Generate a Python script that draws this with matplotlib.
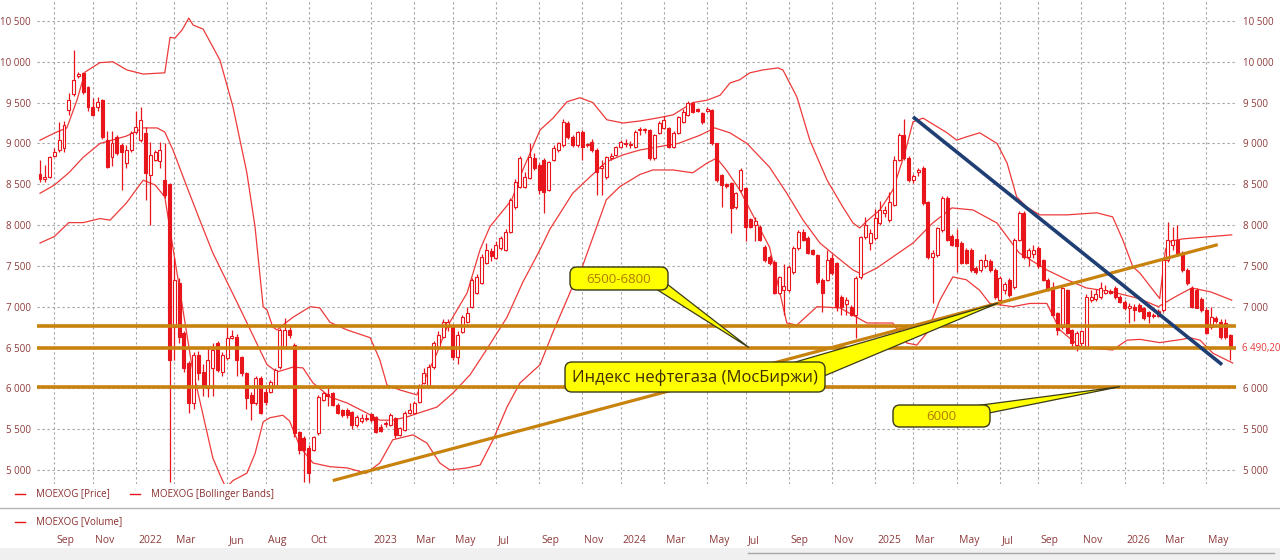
import numpy as np
import pandas as pd
import matplotlib
matplotlib.use("Agg")
import matplotlib.pyplot as plt
from matplotlib.patches import FancyBboxPatch, Polygon, Rectangle
from matplotlib.lines import Line2D
from matplotlib.transforms import IdentityTransform, ScaledTranslation

plt.rcParams['font.family'] = ['Open Sans', 'DejaVu Sans']

# ---------------- data (weekly candles, MOEXOG) ----------------
opens = [8620, 8560, 8590, 8850, 8920, 8950, 9410, 9600, 9830, 9860, 9690, 9450, 9450, 9530, 9040, 8830, 9080, 8980, 8760, 8920,
         9140, 9040, 9130, 8610, 8800, 8780, 8550, 8500, 6750, 7290, 6680, 6310, 5820, 6410, 6200, 6000, 6250, 6560, 6200, 6370,
         6620, 6630, 6380, 6190, 5920, 5820, 6130, 5960, 5960, 6020, 6260, 6510, 6720, 6530, 5470, 5390, 5270, 5245, 5450, 5860,
         5930, 5940, 5800, 5735, 5735, 5710, 5550, 5600, 5640, 5680, 5650, 5530, 5560, 5550, 5640, 5430, 5490, 5700, 5700, 5830,
         6070, 6020, 6260, 6510, 6630, 6750, 6750, 6380, 6690, 6810, 7000, 7170, 7290, 7535, 7680, 7600, 7720, 7700, 7920, 8220,
         8470, 8470, 8580, 8820, 8740, 8800, 8430, 8800, 8920, 8980, 9250, 9080, 8980, 9140, 8980, 9020, 8920, 8700, 8590, 8820,
         8860, 8960, 8990, 8980, 8960, 9160, 9160, 9165, 8820, 9130, 9190, 9190, 8960, 9130, 9260, 9350, 9500, 9420, 9370, 9400,
         9410, 9000, 8610, 8500, 8515, 8220, 8430, 8450, 8070, 8000, 7980, 7730, 7610, 7550, 7170, 7200, 7200, 7425, 7720, 7920,
         7840, 7690, 7630, 7330, 7330, 7600, 7535, 7120, 7030, 7000, 6900, 7360, 7850, 7780, 7840, 8020, 8150, 8060, 8250, 8800,
         9100, 8820, 8550, 8650, 8700, 8280, 7610, 7630, 7940, 8330, 7870, 7830, 7780, 7700, 7700, 7480, 7450, 7500, 7560, 7450,
         7080, 7200, 7330, 7240, 7820, 8150, 7610, 7650, 7720, 7570, 7330, 7240, 6920, 6750, 7200, 6715, 6530, 6560, 6510, 7080,
         7090, 7120, 7170, 7190, 7230, 7120, 7060, 6980, 7000, 7020, 6985, 6930, 6900, 6950, 6960, 7570, 7750, 7820, 7660, 7450,
         7230, 7210, 7100, 6960, 6750, 6860, 6810, 6800, 6650]
highs = [8800, 8730, 8850, 8950, 9260, 9280, 9620, 10150, 9870, 9880, 9700, 9560, 9570, 9550, 9150, 9150, 9100, 9010, 8980, 9150,
         9400, 9450, 9200, 9020, 8920, 9020, 9000, 8520, 7600, 7350, 6700, 6330, 6450, 6460, 6300, 6500, 6550, 6580, 6450, 6760,
         6720, 6660, 6400, 6200, 5960, 6150, 6150, 6000, 6100, 6250, 6740, 6860, 6760, 6550, 5480, 5420, 5300, 5420, 5920, 5960,
         6020, 5960, 5820, 5750, 5760, 5720, 5670, 5690, 5680, 5700, 5660, 5560, 5600, 5700, 5650, 5530, 5720, 5820, 5850, 6050,
         6250, 6300, 6580, 6700, 6850, 6850, 6780, 6700, 6900, 7000, 7350, 7400, 7650, 7780, 7720, 7800, 7860, 7950, 8330, 8560,
         8850, 8650, 9000, 8880, 8760, 8820, 8790, 8980, 9020, 9300, 9270, 9100, 9150, 9160, 9010, 9050, 8940, 8800, 8850, 8880,
         8970, 9040, 9050, 9030, 9160, 9200, 9190, 9180, 9120, 9280, 9330, 9200, 9150, 9340, 9420, 9520, 9510, 9440, 9380, 9450,
         9420, 9010, 8630, 8520, 8530, 8400, 8700, 8470, 8090, 8100, 8000, 7750, 7630, 7570, 7380, 7520, 7510, 7740, 7940, 7950,
         7860, 7710, 7650, 7350, 7700, 7650, 7550, 7140, 7120, 7020, 7380, 7870, 8100, 7950, 8200, 8300, 8230, 8400, 8850, 9130,
         9300, 8840, 8620, 8700, 8720, 8300, 7700, 7980, 8350, 8350, 7890, 7950, 7800, 7720, 7720, 7500, 7580, 7650, 7580, 7470,
         7370, 7300, 7350, 7840, 8170, 8170, 7720, 7750, 7740, 7590, 7350, 7300, 6940, 7250, 7220, 6730, 6700, 6720, 7150, 7200,
         7220, 7300, 7260, 7220, 7250, 7140, 7080, 7040, 7030, 7050, 7000, 6950, 6920, 6970, 7600, 8040, 7980, 8000, 7680, 7470,
         7250, 7230, 7120, 7000, 7000, 6880, 6850, 6850, 6670]
lows = [8530, 8530, 8580, 8830, 8900, 8900, 9350, 9580, 9800, 9600, 9400, 9330, 9400, 9060, 8700, 8720, 8860, 8430, 8700, 8900,
        9120, 9020, 8310, 8000, 8780, 8700, 8330, 4850, 6350, 6550, 6200, 5700, 5750, 6100, 5900, 5890, 5900, 6200, 6150, 6350,
        6600, 6150, 6150, 5750, 5610, 5800, 5680, 5800, 5940, 6000, 6240, 6500, 6620, 5400, 5200, 4850, 4850, 5230, 5430, 5850,
        5780, 5780, 5680, 5650, 5640, 5500, 5530, 5580, 5600, 5590, 5450, 5460, 5530, 5540, 5390, 5410, 5480, 5690, 5690, 5820,
        6050, 6000, 6240, 6500, 6620, 6700, 6350, 6300, 6680, 6800, 6990, 7150, 7280, 7520, 7560, 7580, 7700, 7680, 7900, 8200,
        8450, 8450, 8560, 8680, 8380, 8150, 8420, 8780, 8900, 8960, 9060, 8960, 8960, 8800, 8960, 8900, 8370, 8370, 8570, 8800,
        8840, 8940, 8960, 8950, 8950, 9100, 9130, 8800, 8800, 9120, 9180, 8940, 8940, 9120, 9250, 9340, 9370, 9380, 9240, 9390,
        8980, 8530, 8220, 8450, 7900, 8200, 8410, 7800, 7960, 7800, 7800, 7550, 7510, 7150, 7150, 6900, 7180, 7400, 7700, 7800,
        7640, 7630, 7280, 6940, 7310, 7390, 6950, 6900, 6900, 6880, 6620, 7340, 7830, 7700, 7820, 8000, 8100, 8040, 8230, 8780,
        8800, 8530, 8520, 8600, 8250, 7590, 7040, 7610, 7920, 7800, 7740, 7420, 7520, 7520, 7430, 7400, 7430, 7480, 7430, 7100,
        7020, 7150, 7120, 7220, 7800, 7590, 7500, 7600, 7480, 7310, 7190, 6880, 6650, 6730, 6660, 6500, 6460, 6520, 6500, 7060,
        7070, 7100, 7150, 7150, 7100, 7040, 6960, 6800, 6830, 6930, 6840, 6800, 6860, 6870, 6940, 7550, 7700, 7640, 7430, 7270,
        6980, 6980, 6940, 6660, 6730, 6800, 6610, 6610, 6350]
closes = [8560, 8590, 8830, 8900, 9040, 9225, 9530, 9780, 9850, 9630, 9450, 9350, 9510, 9080, 8710, 9000, 8880, 8900, 8920, 9130,
          9200, 9290, 8640, 8860, 8900, 8920, 8370, 6350, 7330, 6630, 6250, 5820, 6410, 6190, 6040, 6350, 6470, 6230, 6410, 6620,
          6640, 6350, 6190, 5880, 5820, 6130, 5700, 5830, 6080, 6230, 6720, 6720, 6650, 5450, 5245, 5245, 4960, 5400, 5890, 5940,
          5900, 5800, 5700, 5670, 5670, 5550, 5650, 5640, 5620, 5610, 5470, 5480, 5570, 5670, 5430, 5510, 5700, 5735, 5820, 6020,
          6190, 6260, 6560, 6650, 6810, 6810, 6380, 6650, 6870, 6920, 7330, 7360, 7610, 7700, 7620, 7760, 7840, 7920, 8310, 8530,
          8820, 8590, 8830, 8700, 8430, 8400, 8770, 8950, 9000, 9260, 9080, 8980, 9140, 8960, 8990, 8920, 8650, 8720, 8830, 8840,
          8955, 9020, 9000, 8990, 9140, 9165, 9165, 8820, 9100, 9250, 9290, 8960, 9130, 9320, 9390, 9500, 9380, 9400, 9260, 9420,
          9000, 8550, 8490, 8480, 8210, 8390, 8675, 7980, 7980, 8050, 7820, 7570, 7530, 7170, 7360, 7250, 7490, 7720, 7920, 7820,
          7660, 7650, 7300, 7170, 7570, 7410, 7000, 7000, 7080, 6900, 7350, 7850, 8000, 7900, 8090, 8190, 8190, 8280, 8800, 9100,
          8820, 8550, 8600, 8680, 8270, 7610, 7660, 7960, 8330, 7820, 7760, 7740, 7540, 7540, 7450, 7420, 7570, 7570, 7450, 7120,
          7350, 7280, 7140, 7820, 8150, 7610, 7700, 7700, 7500, 7330, 7210, 6900, 6710, 7230, 6680, 6560, 6680, 6700, 7120, 7120,
          7150, 7230, 7210, 7170, 7120, 7060, 6980, 7010, 6960, 6950, 6860, 6880, 6880, 6890, 7570, 7820, 7820, 7660, 7450, 7290,
          7000, 6990, 6960, 6680, 6870, 6820, 6630, 6630, 6490.2]

first_week = "2021-08-16"
closed_weeks = ["2022-02-28", "2022-03-07", "2022-03-14"]   # exchange closed
tick_months = ["2021-09", "2021-11", "2022-01", "2022-03", "2022-06", "2022-08", "2022-10",
               "2023-01", "2023-03", "2023-05", "2023-07", "2023-09", "2023-11",
               "2024-01", "2024-03", "2024-05", "2024-07", "2024-09", "2024-11",
               "2025-01", "2025-03", "2025-05", "2025-07", "2025-09", "2025-11",
               "2026-01", "2026-03", "2026-05"]
month_abbr = ["Jan", "Feb", "Mar", "Apr", "May", "Jun", "Jul", "Aug", "Sep", "Oct", "Nov", "Dec"]
price_ticks = [5000, 5500, 6000, 6500, 7000, 7500, 8000, 8500, 9000, 9500, 10000, 10500]

# Bollinger bands (bar index, value)
bb_up_idx = [0, 3.1, 5.6, 7.7, 9.4, 12.5, 15.2, 18.1, 21.5, 26, 27.1, 28.1, 29.6, 31, 31.9, 34, 37.5, 40.2, 43.1, 44.8,
             46.5, 47.3, 48.5, 49.4, 50.6, 52.7, 56.3, 58.3, 60.4, 64, 68.8, 70.8, 72.3, 75, 78.5, 79.8, 82.7, 84.8, 89, 91.7,
             93.75, 98.3, 100.6, 104.2, 106.9, 109.8, 112.5, 115.2, 118.1, 121.5, 125, 128.5, 131.9, 136, 139, 141.7, 143.75,
             145.8, 147.9, 150.6, 153.75, 154.8, 157.7, 160.4, 164, 167.3, 169.4, 170.8, 172.5, 175, 177.7, 180.2, 181.9, 184,
             189, 191, 193, 195.8, 199.4, 201.5, 203.5, 205.6, 208.3, 214, 220.2, 223.5, 225.6, 227.7, 229.2, 233.3, 234.5,
             235.5, 238, 248.3]
bb_up = [9040, 9130, 9190, 9530, 9875, 9990, 10000, 9900, 9850, 9865, 10300, 10290, 10390, 10535, 10450, 10400, 10020, 9450, 8640, 7980,
         7000, 6960, 6750, 6715, 6775, 6870, 7000, 6985, 6810, 6715, 6620, 6350, 6040, 5980, 5920, 6065, 6430, 6750, 7170, 7700,
         7980, 8310, 8675, 9165, 9310, 9510, 9560, 9500, 9290, 9250, 9275, 9310, 9350, 9500, 9530, 9590, 9740,
         9780, 9865, 9900, 9925, 9900, 9570, 9040, 8550, 8220, 8025, 7965, 8060, 8185, 8430, 8880, 9265, 9310,
         9130, 9040, 9080, 9130, 9000, 8760, 8345, 8220, 8125, 8125, 8150, 8100, 7820, 7490, 7410, 7100, 7700,
         7800, 7830, 7880]
bb_mid_idx = [0, 3, 6, 9, 12.5, 15, 18, 21.5, 24.4, 26, 27.7, 30.6, 33.3, 36, 41.7, 47.3, 49.4, 52.7, 54.8, 56.9,
              60.4, 64, 68, 70.8, 73.5, 76.5, 79, 82.7, 86, 89.6, 93, 97.3, 100.6, 104.2, 106.25, 111, 114.6, 118, 121.5, 125,
              129, 133, 137.5, 140.6, 143.75, 147.3, 152, 155.6, 159, 162.5, 166, 169.4, 171.5, 174.4, 177.7, 181.9, 186, 190,
              194.4, 199.4, 204, 209.8, 214, 218, 223.5, 229, 233, 236.5, 240, 244, 248.3]
bb_mid = [8390, 8490, 8640, 8830, 9000, 9040, 9090, 9190, 9190, 9140, 8920, 8470, 8060, 7660, 6975, 6290, 6200, 6260, 6250, 6065,
          5895, 5820, 5700, 5610, 5610, 5650, 5700, 5770, 5940, 6165, 6470, 6870, 7300, 7700, 7950, 8390, 8590, 8775, 8860, 8920,
          8960, 9000, 9100, 9190, 9130, 9000, 8710, 8390, 8060, 7780, 7610, 7450, 7390, 7475, 7610, 7780, 8025, 8210,
          8185, 8025, 7660, 7450, 7330, 7230, 7180, 7100, 7000, 7120, 7230, 7180, 7080]
bb_lo_idx = [0, 3, 6, 9, 12.5, 14.6, 18, 21.5, 24, 26, 31.7, 36, 37.5, 38.75, 40.2, 43.1, 44.8, 46.5, 47.9, 50.6,
             52, 54.2, 56.9, 60.4, 64, 68, 70.8, 73.5, 77.7, 80.6, 83.3, 85.4, 89, 91.7, 94.4, 97.3, 100, 104.2, 106.9, 111,
             113, 116, 118, 120.8, 125, 127.7, 131.9, 136, 139, 141, 143, 145.8, 152, 155.6, 157.7, 161.9, 166.7, 172.3,
             177.7, 180.6, 182.7, 184.8, 187.5, 190.2, 193, 195.8, 197.9, 202.7, 206.25, 209.8, 212.5, 216.7, 219.4, 223.5,
             226.5, 229.2, 233.3, 238, 239.6, 241.7, 244.4, 248.5]
bb_lo = [7780, 7860, 8030, 8030, 8080, 8060, 8270, 8550, 8490, 8345, 6260, 5150, 4940, 4780, 4870, 4960, 5200, 5590, 5640, 5670,
         5600, 5280, 5085, 5040, 5025, 4960, 5085, 5370, 5430, 5330, 5085, 5000, 5025, 5060, 5370, 5770, 6065, 6290, 6690, 7250,
         7490, 7980, 8310, 8470, 8620, 8675, 8675, 8640, 8760, 8820, 8675, 8430, 7730, 6800, 6775, 7000, 6985, 6800,
         6800, 6555, 6530, 6680, 7080, 7365, 7330, 7200, 7040, 7000, 7040, 7040, 6715, 6510, 6490, 6470,
         6590, 6600, 6560, 6600, 6620, 6590, 6430, 6310]

# drawn levels and trend lines (bar index, value)
levels = [6760, 6500, 6020]
trend_up_x, trend_up_y = [61, 245.4], [4870, 7760]
trend_dn_x, trend_dn_y = [181.9, 246.3], [9325, 6290]
last_price_label = "6 490,20"

callout_texts = ["6500-6800", "Индекс нефтегаза (МосБиржи)", "6000"]
callout_tips = [(147.7, 6500), (199.6, 7045), (225.0, 6020)]

# ---------------- figure ----------------
W, H = 1280, 560
fig = plt.figure(figsize=(W / 100, H / 100), dpi=100)
fig.patch.set_facecolor("white")

PL, PR, PT, PB = 37, 1236, 0, 484
ax = fig.add_axes([PL / W, 1 - PB / H, (PR - PL) / W, (PB - PT) / H])
ax.set_xlim(-0.625, 249.2)
ax.set_ylim(4828, 10757)
for s in ax.spines.values():
    s.set_visible(False)

N = len(closes)
weeks = pd.date_range(first_week, periods=N + len(closed_weeks), freq="W-MON")
weeks = weeks[~weeks.isin(pd.to_datetime(closed_weeks))][:N]
tick_pos, tick_lab = [], []
for m in tick_months:
    ts = pd.Timestamp(m + "-01")
    idx = int(np.argmax(weeks >= ts))
    tick_pos.append(idx)
    tick_lab.append(str(ts.year) if ts.month == 1 else month_abbr[ts.month - 1])

LBL = "#8E3B3B"
RED = "#E8161C"
BAND = "#EE3A3A"

def fmt(v):
    return f"{v:,}".replace(",", " ")

ax.set_xticks(tick_pos)
ax.set_yticks(price_ticks)
ax.set_yticklabels([fmt(v) for v in price_ticks])
ax.grid(True, color="#A2A2A2", lw=0.8, ls=(0, (2, 2.5)))
ax.set_axisbelow(True)
ax.tick_params(axis="x", length=0, labelbottom=False)
ax.tick_params(axis="y", length=0, labelleft=True, labelright=False, labelsize=7,
               labelcolor=LBL, pad=4.5)

# right-hand price scale (6 500 is replaced by the last-price marker)
axr = ax.twinx()
axr.set_ylim(ax.get_ylim())
right_ticks = [v for v in price_ticks if abs(v - closes[-1]) > 100]
axr.set_yticks(right_ticks)
axr.set_yticklabels([fmt(v) for v in right_ticks])
axr.tick_params(axis="y", length=0, labelsize=7, labelcolor=LBL, pad=5)
for s in axr.spines.values():
    s.set_visible(False)

# candles
x = np.arange(N)
o = np.array(opens, float); c = np.array(closes, float)
h = np.array(highs, float); l = np.array(lows, float)
up = c >= o
ax.vlines(x, l, h, color=RED, lw=0.9, zorder=3)
blo = np.minimum(o, c)
bh = np.maximum(np.abs(c - o), 14)
ax.bar(x[up], bh[up], bottom=blo[up], width=0.62, facecolor="white", edgecolor=RED, lw=0.8, zorder=4)
ax.bar(x[~up], bh[~up], bottom=blo[~up], width=0.62, facecolor=RED, edgecolor=RED, lw=0.8, zorder=4)

# Bollinger bands
for bx, by in ((bb_up_idx, bb_up), (bb_mid_idx, bb_mid), (bb_lo_idx, bb_lo)):
    ax.plot(bx, by, color=BAND, lw=0.9, zorder=2.5)

# levels & trend lines
GOLD = "#C8820E"
for lv in levels:
    ax.axhline(lv, color=GOLD, lw=2.6, zorder=5, solid_capstyle="butt")
ax.plot(trend_up_x, trend_up_y, color=GOLD, lw=2.3, zorder=5, solid_capstyle="butt")
ax.plot(trend_dn_x, trend_dn_y, color="#1F3F74", lw=2.6, zorder=5, solid_capstyle="butt")

# last price label on the right scale
ax.text(1.0, closes[-1], last_price_label, color="#E5383B", fontsize=7, ha="left", va="center",
        transform=ax.get_yaxis_transform() + ScaledTranslation(6 / 100, 0, fig.dpi_scale_trans))

# month labels (bottom strip)
ax2 = fig.add_axes([PL / W, 1 - 532 / H, (PR - PL) / W, 1 / H])
ax2.set_xlim(ax.get_xlim())
ax2.set_yticks([])
for s in ax2.spines.values():
    s.set_visible(False)
ax2.set_xticks(tick_pos)
ax2.set_xticklabels(tick_lab)
ax2.tick_params(axis="x", length=0, labelsize=7.5, labelcolor=LBL, pad=2)
off = ScaledTranslation(2 / 100, 0, fig.dpi_scale_trans)
for t in ax2.get_xticklabels():
    t.set_ha("left")
    t.set_transform(t.get_transform() + off)
ax2.patch.set_visible(False)

# legend rows & separators (pixel layout)
def fx(px):
    return px / W

def fy(py):
    return 1 - py / H

def legend_item(px, py, text):
    fig.add_artist(Line2D([fx(px), fx(px + 10)], [fy(py), fy(py)], color=RED, lw=1.0))
    fig.text(fx(px + 21), fy(py), text, color="#8A2D2D", fontsize=7, ha="left", va="center")

legend_item(15, 494, "MOEXOG [Price]")
legend_item(130, 494, "MOEXOG [Bollinger Bands]")
fig.add_artist(Line2D([0, 1], [fy(508), fy(508)], color="#B4B4B4", lw=1.0))
legend_item(15, 522, "MOEXOG [Volume]")
fig.add_artist(Rectangle((0, 0), 1, fy(548), transform=fig.transFigure, facecolor="#F0F0F0",
                         edgecolor="none", zorder=0))
fig.add_artist(Line2D([fx(748), fx(1274)], [fy(553), fy(553)], color="#A8A8A8", lw=1.0))

# callouts
YEL = "#FFFF00"
EDGE = "#3A3A18"
idt = IdentityTransform()

def callout(box, base, tip, text, fs, color):
    x0, y0, x1, y1 = box
    tx, ty = ax.transData.transform(tip)
    tail = Polygon([(base[0][0], H - base[0][1]), (tx, ty), (base[1][0], H - base[1][1])],
                   closed=True, facecolor=YEL, edgecolor=EDGE, lw=0.9, transform=idt, zorder=20)
    fig.add_artist(tail)
    patch = FancyBboxPatch((x0, H - y1), x1 - x0, y1 - y0,
                           boxstyle="round,pad=0,rounding_size=7", facecolor=YEL, edgecolor=EDGE,
                           lw=1.0, transform=idt, zorder=21)
    fig.add_artist(patch)
    fig.text(fx((x0 + x1) / 2), fy((y0 + y1) / 2 + 1), text, ha="center", va="center",
             fontsize=fs, color=color, zorder=22)

callout((570, 267, 668, 290), [(656, 289), (667, 284)], callout_tips[0], callout_texts[0], 9.5, "#B07A00")
callout((565, 362, 825, 392), [(792, 363), (824, 376)], callout_tips[1], callout_texts[1], 12, "#3E2E04")
callout((893, 405, 990, 427), [(974, 406), (989, 413)], callout_tips[2], callout_texts[2], 9.5, "#B07A00")

fig.savefig("out.png", dpi=100)
